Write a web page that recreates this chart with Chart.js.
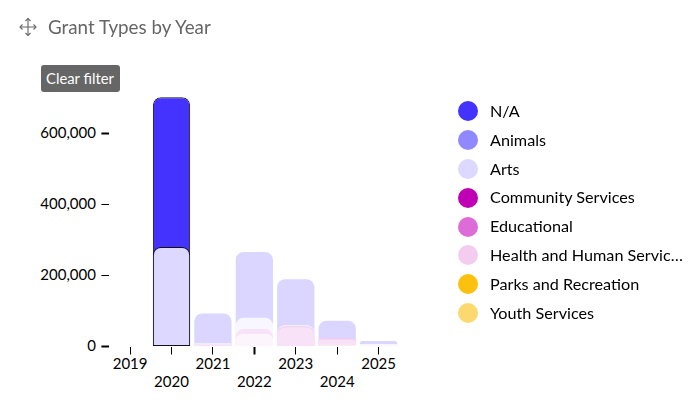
<!DOCTYPE html>
<html>
<head>
<meta charset="utf-8">
<title>Grant Types by Year</title>
<script src="https://cdn.jsdelivr.net/npm/chart.js@4/dist/chart.umd.min.js"></script>
<style>
  html, body { margin: 0; padding: 0; background: #fff; }
  #stage { position: relative; width: 690px; height: 420px; overflow: hidden; font-family: Lato, sans-serif; }
  #plot { position: absolute; left: 0; top: 0; }
  #moveIcon { position: absolute; left: 19px; top: 17px; }
  #title { position: absolute; left: 48px; top: 15px; font-size: 18.8px; line-height: 24px; color: #666; white-space: nowrap; }
  #clear { position: absolute; left: 41px; top: 65px; width: 78px; padding-right: 1px; height: 27px; background: #666; color: #fff;
           border-radius: 3px; font-size: 14.8px; line-height: 27px; text-align: center; }
  #legend { position: absolute; left: 458px; top: 97px; margin: 0; padding: 0; list-style: none; }
  #legend li { position: relative; height: 28.8px; line-height: 28.8px; font-size: 16.2px; color: #000; white-space: nowrap; }
  #legend i { position: absolute; left: 0; top: 4.4px; width: 20px; height: 20px; border-radius: 50%; }
  #legend span { position: absolute; left: 32px; top: 0; }
</style>
</head>
<body>
<div id="stage">
  <canvas id="plot" width="690" height="420"></canvas>
  <svg id="moveIcon" width="18" height="20" viewBox="0 0 18 20" fill="none" stroke="#666" stroke-width="1.1">
    <path d="M9 1.5V18.5M1 10H17"/>
    <path d="M6.5 4L9 1.5L11.5 4M6.5 16L9 18.5L11.5 16M3.5 7.5L1 10L3.5 12.5M14.5 7.5L17 10L14.5 12.5"/>
  </svg>
  <div id="title">Grant Types by Year</div>
  <div id="clear">Clear filter</div>
  <ul id="legend"></ul>
</div>
<script>
const years = ['2019', '2020', '2021', '2022', '2023', '2024', '2025'];
const selectedYear = '2020';

const naValues        = [null, 701000, 93000, 266000, 189000, 72500, 15500];
const animalsValues   = [null, null, null, null, null, null, null];
const artsValues      = [null, 280000, 9000, 81000, 60000, null, 7000];
const communityValues = [null, null, null, null, 57000, 24000, null];
const educationValues = [null, null, 6000, 49000, 54000, 20000, null];
const healthValues    = [2000, null, null, 35000, null, null, null];
const parksValues     = [null, null, null, null, null, null, null];
const youthValues     = [null, null, null, null, null, 2500, 3000];

const seriesNames = ['N/A', 'Animals', 'Arts', 'Community Services', 'Educational',
                     'Health and Human Services', 'Parks and Recreation', 'Youth Services'];
const seriesValues = [naValues, animalsValues, artsValues, communityValues, educationValues,
                      healthValues, parksValues, youthValues];
const seriesColors = ['#4433ff', '#9088ff', '#dcd8ff', '#c000b5', '#dd6cd8', '#f3ccf0', '#fcc10e', '#fcd96f'];
const yTicks = [0, 200000, 400000, 600000];

// Unselected years are shown as an opaque 20% tint, so overlapping layers hide one another.
function tint(hex) {
  const n = parseInt(hex.slice(1), 16);
  const mix = c => Math.round(255 + (c - 255) * 0.2);
  return `rgb(${mix(n >> 16)},${mix((n >> 8) & 255)},${mix(n & 255)})`;
}

const isSelected = ctx => years[ctx.dataIndex] === selectedYear;

const datasets = seriesNames.map((name, i) => ({
  label: name,
  data: seriesValues[i],
  grouped: false,
  // Bars overlap in one slot: the first series sits at the back.
  order: seriesNames.length - i,
  clip: false,
  categoryPercentage: 1,
  barPercentage: 0.9,
  borderSkipped: false,
  borderRadius: { topLeft: 8, topRight: 8, bottomLeft: 0, bottomRight: 0 },
  backgroundColor: ctx => isSelected(ctx) ? seriesColors[i] : tint(seriesColors[i]),
  borderColor: '#111',
  borderWidth: ctx => isSelected(ctx) ? 1 : 0
}));

const canvas = document.getElementById('plot');
const ctx2d = canvas.getContext('2d', { alpha: false });

const whiteBackdrop = {
  id: 'whiteBackdrop',
  beforeDraw(chart) {
    const c = chart.ctx;
    c.save();
    c.fillStyle = '#fff';
    c.fillRect(0, 0, chart.width, chart.height);
    c.restore();
  }
};

const axisFont = { family: 'Lato', size: 15, lineHeight: 1.2 };

new Chart(ctx2d, {
  type: 'bar',
  data: { labels: years, datasets },
  plugins: [whiteBackdrop],
  options: {
    responsive: false,
    animation: false,
    layout: { padding: { top: 97.5, right: 290.7, bottom: 0, left: 0 } },
    plugins: { legend: { display: false }, tooltip: { enabled: false } },
    scales: {
      x: {
        stacked: false,
        afterFit(axis) { axis.height = 73.5; },
        border: { display: false },
        grid: {
          offset: false,
          drawOnChartArea: false,
          tickLength: 8,
          tickColor: '#000',
          tickWidth: ctx => years[ctx.index] === '2022' ? 2 : 1
        },
        ticks: {
          color: '#000',
          font: axisFont,
          padding: 1,
          autoSkip: false,
          maxRotation: 0,
          // Alternate years drop to a second row so the labels stay apart.
          callback(value, index) {
            const label = this.getLabelForValue(value);
            return index % 2 ? ['', label] : [label];
          }
        }
      },
      y: {
        min: 0,
        max: 700000,
        afterFit(axis) { axis.width = 109.4; },
        afterBuildTicks(axis) { axis.ticks = yTicks.map(value => ({ value })); },
        border: { display: false },
        grid: {
          drawOnChartArea: false,
          tickLength: 8,
          tickColor: '#000',
          tickWidth: ctx => (ctx.tick && (ctx.tick.value === 0 || ctx.tick.value === 600000)) ? 2 : 1
        },
        ticks: {
          color: '#000',
          font: axisFont,
          padding: 5.5,
          callback: value => value.toLocaleString('en-US')
        }
      }
    }
  }
});

// Legend list, built from the same series names and colours as the bars.
const legend = document.getElementById('legend');
const shorten = name => name.length > 23 ? name.slice(0, 23) + '…' : name;
seriesNames.forEach((name, i) => {
  const item = document.createElement('li');
  const dot = document.createElement('i');
  dot.style.background = seriesColors[i];
  const text = document.createElement('span');
  text.textContent = shorten(name);
  item.append(dot, text);
  legend.append(item);
});
</script>
</body>
</html>
